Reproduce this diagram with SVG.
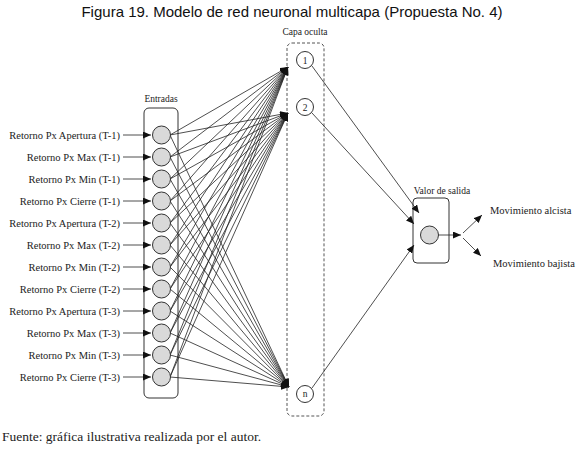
<svg xmlns="http://www.w3.org/2000/svg" width="578" height="451" viewBox="0 0 578 451">
<defs>
<marker id="ah" markerUnits="userSpaceOnUse" markerWidth="9" markerHeight="7" refX="8" refY="3.5" orient="auto">
<path d="M0,0 L8,3.5 L0,7 z" fill="#111"/>
</marker>
<style>
.t{font-family:"Liberation Serif","Times New Roman",serif;fill:#222}
.lbl{font-size:10.5px;text-anchor:end}
.hd{font-size:9.5px;text-anchor:middle}
.c{fill:#d9d9d9;stroke:#333;stroke-width:1}
.h{fill:#fff;stroke:#333;stroke-width:1}
.cn{stroke:#222;stroke-width:0.8;fill:none;marker-end:url(#ah)}
</style>
</defs>
<rect width="578" height="451" fill="#fff"/>
<text x="292" y="17" font-family="'Liberation Sans',Arial,sans-serif" font-size="15" text-anchor="middle" fill="#111">Figura 19. Modelo de red neuronal multicapa (Propuesta No. 4)</text>

<g id="inputs-box">
<rect x="144" y="108" width="34" height="290" rx="5" fill="none" stroke="#333" stroke-width="1"/>
<text class="t hd" x="161" y="102">Entradas</text>
</g>
<g id="hidden-box">
<rect x="287" y="43" width="37" height="373" rx="5" fill="none" stroke="#555" stroke-width="1" stroke-dasharray="3,2"/>
<text class="t hd" x="305" y="35">Capa oculta</text>
</g>
<g id="output-box">
<rect x="413" y="198" width="36" height="65" rx="4" fill="none" stroke="#333" stroke-width="1"/>
<text class="t hd" x="442" y="194">Valor de salida</text>
</g>

<g id="connectors">
<line class="cn" x1="123" y1="135" x2="151" y2="135"/>
<line class="cn" x1="123" y1="157" x2="151" y2="157"/>
<line class="cn" x1="123" y1="179" x2="151" y2="179"/>
<line class="cn" x1="123" y1="201" x2="151" y2="201"/>
<line class="cn" x1="123" y1="223" x2="151" y2="223"/>
<line class="cn" x1="123" y1="245" x2="151" y2="245"/>
<line class="cn" x1="123" y1="267" x2="151" y2="267"/>
<line class="cn" x1="123" y1="289" x2="151" y2="289"/>
<line class="cn" x1="123" y1="311" x2="151" y2="311"/>
<line class="cn" x1="123" y1="333" x2="151" y2="333"/>
<line class="cn" x1="123" y1="355" x2="151" y2="355"/>
<line class="cn" x1="123" y1="377" x2="151" y2="377"/>

<line class="cn" x1="170" y1="135" x2="288" y2="67"/>
<line class="cn" x1="170" y1="157" x2="288" y2="67"/>
<line class="cn" x1="170" y1="179" x2="288" y2="67"/>
<line class="cn" x1="170" y1="201" x2="288" y2="67"/>
<line class="cn" x1="170" y1="223" x2="288" y2="67"/>
<line class="cn" x1="170" y1="245" x2="288" y2="67"/>
<line class="cn" x1="170" y1="267" x2="288" y2="67"/>
<line class="cn" x1="170" y1="289" x2="288" y2="67"/>
<line class="cn" x1="170" y1="311" x2="288" y2="67"/>
<line class="cn" x1="170" y1="333" x2="288" y2="67"/>
<line class="cn" x1="170" y1="355" x2="288" y2="67"/>
<line class="cn" x1="170" y1="377" x2="288" y2="67"/>

<line class="cn" x1="170" y1="135" x2="288" y2="113"/>
<line class="cn" x1="170" y1="157" x2="288" y2="113"/>
<line class="cn" x1="170" y1="179" x2="288" y2="113"/>
<line class="cn" x1="170" y1="201" x2="288" y2="113"/>
<line class="cn" x1="170" y1="223" x2="288" y2="113"/>
<line class="cn" x1="170" y1="245" x2="288" y2="113"/>
<line class="cn" x1="170" y1="267" x2="288" y2="113"/>
<line class="cn" x1="170" y1="289" x2="288" y2="113"/>
<line class="cn" x1="170" y1="311" x2="288" y2="113"/>
<line class="cn" x1="170" y1="333" x2="288" y2="113"/>
<line class="cn" x1="170" y1="355" x2="288" y2="113"/>
<line class="cn" x1="170" y1="377" x2="288" y2="113"/>

<line class="cn" x1="170" y1="135" x2="289" y2="387"/>
<line class="cn" x1="170" y1="157" x2="289" y2="387"/>
<line class="cn" x1="170" y1="179" x2="289" y2="387"/>
<line class="cn" x1="170" y1="201" x2="289" y2="387"/>
<line class="cn" x1="170" y1="223" x2="289" y2="387"/>
<line class="cn" x1="170" y1="245" x2="289" y2="387"/>
<line class="cn" x1="170" y1="267" x2="289" y2="387"/>
<line class="cn" x1="170" y1="289" x2="289" y2="387"/>
<line class="cn" x1="170" y1="311" x2="289" y2="387"/>
<line class="cn" x1="170" y1="333" x2="289" y2="387"/>
<line class="cn" x1="170" y1="355" x2="289" y2="387"/>
<line class="cn" x1="170" y1="377" x2="289" y2="387"/>

<line class="cn" x1="312" y1="66" x2="419" y2="213"/>
<line class="cn" x1="312" y1="113" x2="414" y2="224"/>
<line class="cn" x1="312" y1="388" x2="414" y2="245"/>

<line class="cn" x1="438" y1="235" x2="461" y2="235"/>
<line class="cn" x1="463" y1="233" x2="482" y2="215"/>
<line class="cn" x1="463" y1="238" x2="481" y2="256"/>
</g>

<g id="in1"><circle class="c" cx="161.5" cy="135" r="9"/><text class="t lbl" x="120" y="138.5">Retorno Px Apertura (T-1)</text></g>
<g id="in2"><circle class="c" cx="161.5" cy="157" r="9"/><text class="t lbl" x="120" y="160.5">Retorno Px Max (T-1)</text></g>
<g id="in3"><circle class="c" cx="161.5" cy="179" r="9"/><text class="t lbl" x="120" y="182.5">Retorno Px Min (T-1)</text></g>
<g id="in4"><circle class="c" cx="161.5" cy="201" r="9"/><text class="t lbl" x="120" y="204.5">Retorno Px Cierre (T-1)</text></g>
<g id="in5"><circle class="c" cx="161.5" cy="223" r="9"/><text class="t lbl" x="120" y="226.5">Retorno Px Apertura (T-2)</text></g>
<g id="in6"><circle class="c" cx="161.5" cy="245" r="9"/><text class="t lbl" x="120" y="248.5">Retorno Px Max (T-2)</text></g>
<g id="in7"><circle class="c" cx="161.5" cy="267" r="9"/><text class="t lbl" x="120" y="270.5">Retorno Px Min (T-2)</text></g>
<g id="in8"><circle class="c" cx="161.5" cy="289" r="9"/><text class="t lbl" x="120" y="292.5">Retorno Px Cierre (T-2)</text></g>
<g id="in9"><circle class="c" cx="161.5" cy="311" r="9"/><text class="t lbl" x="120" y="314.5">Retorno Px Apertura (T-3)</text></g>
<g id="in10"><circle class="c" cx="161.5" cy="333" r="9"/><text class="t lbl" x="120" y="336.5">Retorno Px Max (T-3)</text></g>
<g id="in11"><circle class="c" cx="161.5" cy="355" r="9"/><text class="t lbl" x="120" y="358.5">Retorno Px Min (T-3)</text></g>
<g id="in12"><circle class="c" cx="161.5" cy="377" r="9"/><text class="t lbl" x="120" y="380.5">Retorno Px Cierre (T-3)</text></g>

<g id="h1"><circle class="h" cx="305" cy="60" r="8.5"/><text class="t hd" x="305" y="63.5">1</text></g>
<g id="h2"><circle class="h" cx="305" cy="107" r="8.5"/><text class="t hd" x="305" y="110.5">2</text></g>
<g id="hn"><circle class="h" cx="305" cy="394" r="8.5"/><text class="t hd" x="305" y="397">n</text></g>

<g id="out"><circle class="c" cx="429.5" cy="235" r="9"/></g>
<g id="up"><text class="t" x="490" y="214" font-size="10.5">Movimiento alcista</text></g>
<g id="down"><text class="t" x="493" y="267" font-size="10.5">Movimiento bajista</text></g>

<text class="t" x="2" y="441" font-size="13.5">Fuente: gráfica ilustrativa realizada por el autor.</text>
</svg>
